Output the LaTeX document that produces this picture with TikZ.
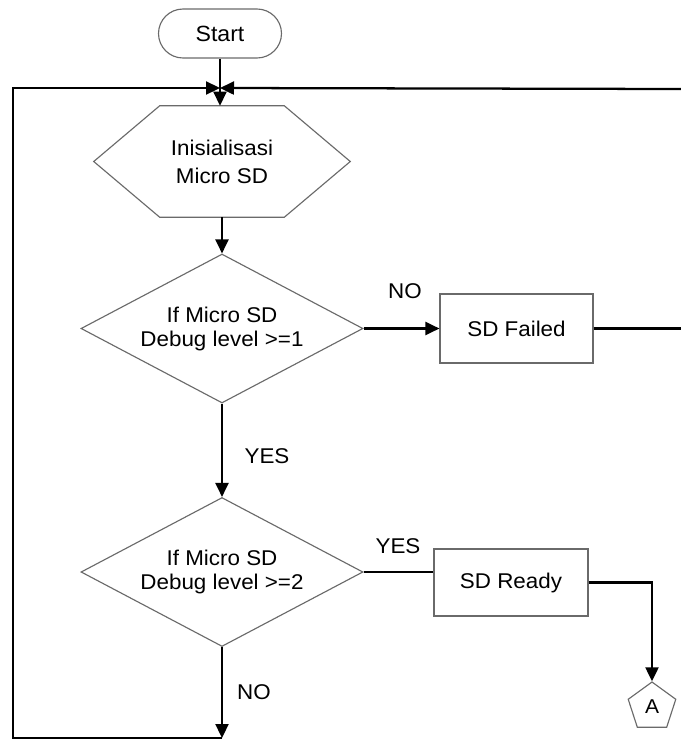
\documentclass[tikz,border=0pt]{standalone}
\usepackage{fontspec}
\setmainfont{Liberation Sans}[FakeStretch=1.05]
\usetikzlibrary{arrows.meta,shapes.geometric,shapes.misc}
\definecolor{shapegray}{HTML}{6A6A6A}
\begin{document}
\begin{tikzpicture}[x=0.75pt,y=-0.75pt,
  shapeline/.style={draw=shapegray, line width=0.85pt},
  conn/.style={line width=1.7pt, draw=black},
  arr/.style={conn, -{Triangle[length=10.5pt,width=9.75pt]}},
  lbl/.style={font=\fontsize{16}{19}\selectfont, inner sep=0pt},
  proc/.style={shapeline, rectangle, inner sep=0pt, font=\fontsize{16}{19}\selectfont},
  dec/.style={shapeline, diamond, aspect=1.89, inner sep=0pt, minimum width=211.5pt, minimum height=111.75pt, align=center, font=\fontsize{16}{18}\selectfont}
]
\useasboundingbox (0,0) rectangle (681,740);
\fill[white] (0,0) rectangle (681,740);

% nodes
\node[shapeline, rounded rectangle, minimum width=92.25pt, minimum height=36.75pt, inner sep=0pt, font=\fontsize{16.5}{19}\selectfont] (start) at (220,33.5) {Start};
\node[align=center, inner sep=0pt, minimum width=192pt, minimum height=83.25pt, font=\fontsize{16}{21}\selectfont] (hex) at (222,161.5) {Inisialisasi\\Micro SD};
\draw[shapeline] (hex.west) -- ([xshift=49.5pt]hex.north west) -- ([xshift=-49.5pt]hex.north east) -- (hex.east) -- ([xshift=-49.5pt]hex.south east) -- ([xshift=49.5pt]hex.south west) -- cycle;
\node[dec] (d1) at (222,328.5) {If Micro SD\\Debug level >=1};
\node[dec] (d2) at (222,572) {If Micro SD\\Debug level >=2};
\node[proc, minimum width=114.75pt, minimum height=51.75pt] (fail) at (516.5,328.5) {SD Failed};
\node[proc, minimum width=115.5pt, minimum height=50.25pt] (ready) at (511,582.5) {SD Ready};
\node[shapeline, regular polygon, regular polygon sides=5, minimum size=37.5pt, inner sep=0pt, font=\fontsize{15}{18}\selectfont] (A) at (652,707) {A};

% labels
\node[lbl] (no1) at (405,291) {NO};
\node[lbl] (yes1) at (267,456) {YES};
\node[lbl] (yes2) at (398,546) {YES};
\node[lbl] (no2) at (254,692) {NO};

% helper coordinates
\coordinate (m) at (220,88);
\coordinate (lt) at (13,88);
\coordinate (lb) at (13,738);
\coordinate (bot) at (222,738);
\coordinate (rt) at (681,89);

% connectors
\draw[conn] (start.south) -- (m);
\draw[arr] (m) -- (hex.north -| m);
\draw[arr] (hex.south) -- (d1.north);
\draw[arr] (d1.east) -- (fail.west);
\draw[conn] (fail.east) -- (fail.east -| rt);
\draw[arr] (rt) -- (m);
\draw[arr] (d1.south) -- (d2.north);
\draw[conn] (d2.east) -- (d2.east -| ready.west);
\draw[arr] (ready.east) -| (A.corner 1);
\draw[arr] (d2.south) -- (bot);
\draw[arr] (bot) -- (lb) -- (lt) -- (m);
\end{tikzpicture}
\end{document}
